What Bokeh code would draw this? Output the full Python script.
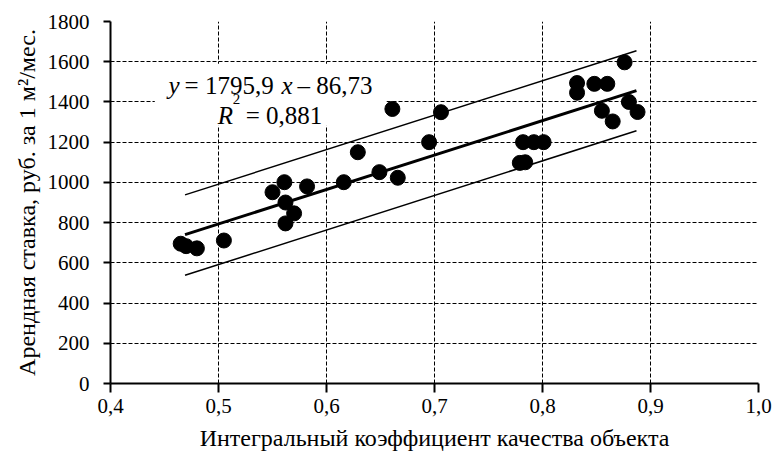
from bokeh.plotting import figure
from bokeh.models import FixedTicker, BoxAnnotation, Label, Range1d
from bokeh.embed import file_html
from bokeh.resources import INLINE

# ---- data ----
quality = [0.465, 0.470, 0.480, 0.505, 0.550, 0.561, 0.582, 0.562, 0.570, 0.562,
           0.616, 0.629, 0.649, 0.661, 0.666, 0.695, 0.706,
           0.779, 0.784, 0.782, 0.792, 0.801,
           0.832, 0.832, 0.848, 0.860, 0.855, 0.865, 0.876, 0.880, 0.888]
rent = [695, 683, 672, 711, 951, 1001, 980, 900, 846, 796,
        1001, 1150, 1051, 1365, 1023, 1200, 1349,
        1097, 1100, 1200, 1200, 1200,
        1494, 1446, 1490, 1490, 1356, 1303, 1597, 1400, 1350]

trend_x = [0.469, 0.887]
trend_y = [740, 1456]
upper_y = [938, 1655]
lower_y = [538, 1257]

x_ticks = [0.4, 0.5, 0.6, 0.7, 0.8, 0.9, 1.0]
x_tick_labels = ["0,4", "0,5", "0,6", "0,7", "0,8", "0,9", "1,0"]
y_ticks = [0, 200, 400, 600, 800, 1000, 1200, 1400, 1600, 1800]

FONT = "Liberation Serif"

p = figure(width=774, height=458,
           min_border_left=110, min_border_right=16,
           min_border_top=21, min_border_bottom=75,
           x_range=Range1d(0.4, 1.0), y_range=Range1d(0, 1800),
           output_backend="svg", toolbar_location=None)
p.outline_line_color = None
p.background_fill_color = "white"

# grid
for g in (p.xgrid, p.ygrid):
    g.grid_line_color = "black"
    g.grid_line_dash = "4 2"
    g.grid_line_width = 1
p.xgrid.ticker = FixedTicker(ticks=x_ticks)
p.ygrid.ticker = FixedTicker(ticks=y_ticks)

# axes
p.xaxis.ticker = FixedTicker(ticks=x_ticks)
p.xaxis.major_label_overrides = {t: l for t, l in zip(x_ticks, x_tick_labels)}
p.yaxis.ticker = FixedTicker(ticks=y_ticks)
for ax in (p.xaxis, p.yaxis):
    ax.axis_line_color = "black"
    ax.axis_line_width = 2
    ax.major_tick_line_color = "black"
    ax.major_tick_line_width = 2
    ax.major_tick_in = 0
    ax.minor_tick_line_color = None
    ax.major_label_text_font = FONT
    ax.major_label_text_color = "black"
    ax.axis_label_text_font = FONT
    ax.axis_label_text_font_style = "normal"
    ax.axis_label_text_color = "black"

p.xaxis.major_tick_out = 9
p.xaxis.major_label_standoff = 6
p.xaxis.major_label_text_font_size = "21px"
p.xaxis.axis_label = "Интегральный коэффициент качества объекта"
p.xaxis.axis_label_text_font_size = "24px"
p.xaxis.axis_label_standoff = 9

p.yaxis.major_tick_out = 7
p.yaxis.major_label_standoff = 14
p.yaxis.major_label_text_font_size = "21px"
p.yaxis.axis_label = "Арендная ставка, руб. за 1 м²/мес."
p.yaxis.axis_label_text_font_size = "24px"
p.yaxis.axis_label_standoff = 5

# white box behind the equation
box = BoxAnnotation(left=0.441, right=0.6555, bottom=1282, top=1590,
                    fill_color="white", fill_alpha=1.0, line_color=None,
                    level="underlay")
p.add_layout(box)

# lines
p.line(trend_x, upper_y, line_color="black", line_width=1.5)
p.line(trend_x, lower_y, line_color="black", line_width=1.5)
p.line(trend_x, trend_y, line_color="black", line_width=3)

# points
p.scatter(quality, rent, size=15, fill_color="black", line_color="black")

# equation text
def lab(x, y, text, xoff=0, italic=False, size="25px"):
    p.add_layout(Label(x=x, y=y, x_offset=xoff, text=text,
                       text_font=FONT, text_font_size=size,
                       text_font_style="italic" if italic else "normal",
                       text_color="black", text_baseline="alphabetic",
                       text_align="left"))

ex, ey = 0.4538, 1481
lab(ex, ey, "y", 0, True)
lab(ex, ey, "= 1795,9", 16)
lab(ex, ey, "x", 113, True)
lab(ex, ey, "– 86,73", 129)

rx, ry = 0.4992, 1332
lab(rx, ry, "R", 0, True)
lab(rx, 1417, "2", 15, False, "15px")
lab(rx, ry, "= 0,881", 28)

open("out.html", "w").write(file_html(p, INLINE))
